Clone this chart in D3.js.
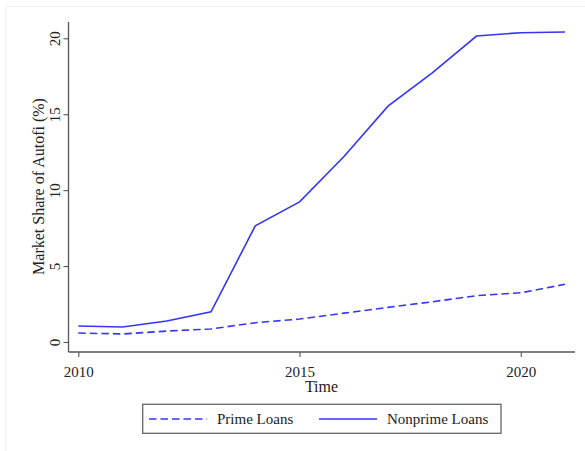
<!DOCTYPE html>
<html>
<head>
<meta charset="utf-8">
<script src="https://cdn.jsdelivr.net/npm/d3@7"></script>
<style>
  html, body { margin: 0; padding: 0; background: #fff; }
  svg { display: block; font-family: "Liberation Serif", "Times New Roman", serif; }
</style>
</head>
<body>
<svg id="chart" width="585" height="451"></svg>
<script>
const years = [2010, 2011, 2012, 2013, 2014, 2015, 2016, 2017, 2018, 2019, 2020, 2021];
const primeLoans = [0.59, 0.53, 0.72, 0.86, 1.27, 1.51, 1.90, 2.28, 2.65, 3.05, 3.24, 3.80];
const nonprimeLoans = [1.05, 0.99, 1.38, 1.99, 7.65, 9.23, 12.2, 15.53, 17.72, 20.15, 20.37, 20.41];
const xTicks = [2010, 2015, 2020];
const yTicks = [0, 5, 10, 15, 20];
const seriesNames = ["Prime Loans", "Nonprime Loans"];
const yTitle = "Market Share of Autofi (%)";
const xTitle = "Time";

const svg = d3.select("#chart");
const lineColor = "#3535f5";
const axisColor = "#555";
const textColor = "#222";

// faint frame (top/left)
svg.append("path").attr("d", "M6,451V6.5H585").attr("fill", "none").attr("stroke", "#eeeeee").attr("stroke-width", 1);

const x = d3.scaleLinear().domain([2010, 2021]).range([78.3, 565]);
const y = d3.scaleLinear().domain([0, 20]).range([342, 38.3]);

// plot region extents (Stata-like margins)
const xAxisLeft = 68.5, xAxisRight = 575, yAxisTop = 22, yAxisBottom = 352;

// Y axis
const yAxis = d3.axisLeft(y).tickValues(yTicks).tickSize(5).tickSizeOuter(0).tickFormat(d3.format("d"));
const gy = svg.append("g").attr("transform", `translate(${xAxisLeft},0)`).call(yAxis);
gy.select(".domain").attr("d", `M0,${yAxisTop}V${yAxisBottom}`).attr("stroke", axisColor).attr("stroke-width", 1.3);
gy.selectAll(".tick line").attr("stroke", axisColor).attr("stroke-width", 1.1);
gy.selectAll(".tick text")
  .attr("x", null).attr("dy", null)
  .attr("transform", "translate(-8.5,0) rotate(-90)")
  .attr("text-anchor", "middle")
  .attr("font-size", 15)
  .attr("fill", textColor)
  .attr("font-family", "Liberation Serif");

// X axis
const xAxis = d3.axisBottom(x).tickValues(xTicks).tickSize(5).tickSizeOuter(0).tickFormat(d3.format("d"));
const gx = svg.append("g").attr("transform", `translate(0,${yAxisBottom})`).call(xAxis);
gx.select(".domain").attr("d", `M${xAxisLeft},0H${xAxisRight}`).attr("stroke", axisColor).attr("stroke-width", 1.3);
gx.selectAll(".tick line").attr("stroke", axisColor).attr("stroke-width", 1.1);
gx.selectAll(".tick text")
  .attr("y", null).attr("dy", null)
  .attr("transform", "translate(0,24.7)")
  .attr("font-size", 15)
  .attr("fill", textColor)
  .attr("font-family", "Liberation Serif");

// Axis titles
svg.append("text")
  .attr("transform", "translate(43.5,186.5) rotate(-90)")
  .attr("text-anchor", "middle")
  .attr("font-size", 16)
  .attr("fill", textColor)
  .text(yTitle);

svg.append("text")
  .attr("x", 321.5).attr("y", 392)
  .attr("text-anchor", "middle")
  .attr("font-size", 16)
  .attr("fill", textColor)
  .text(xTitle);

// Lines
const line = d3.line().x((d, i) => x(years[i])).y(d => y(d));

svg.append("path")
  .datum(primeLoans)
  .attr("d", line)
  .attr("fill", "none")
  .attr("stroke", lineColor)
  .attr("stroke-width", 1.6)
  .attr("stroke-dasharray", "7.5,4");

svg.append("path")
  .datum(nonprimeLoans)
  .attr("d", line)
  .attr("fill", "none")
  .attr("stroke", lineColor)
  .attr("stroke-width", 1.6);

// Legend
const lg = svg.append("g");
lg.append("rect")
  .attr("x", 142.7).attr("y", 404.3).attr("width", 358.3).attr("height", 29)
  .attr("fill", "#fff").attr("stroke", "#666").attr("stroke-width", 1.3);

const legendItems = [
  { name: seriesNames[0], x1: 149, x2: 207, tx: 217, dash: "7.5,4" },
  { name: seriesNames[1], x1: 319, x2: 377, tx: 387, dash: null }
];
legendItems.forEach(it => {
  const l = lg.append("line")
    .attr("x1", it.x1).attr("x2", it.x2).attr("y1", 419).attr("y2", 419)
    .attr("stroke", lineColor).attr("stroke-width", 1.6);
  if (it.dash) l.attr("stroke-dasharray", it.dash);
  lg.append("text")
    .attr("x", it.tx).attr("y", 424)
    .attr("font-size", 15)
    .attr("fill", textColor)
    .text(it.name);
});
</script>
</body>
</html>
